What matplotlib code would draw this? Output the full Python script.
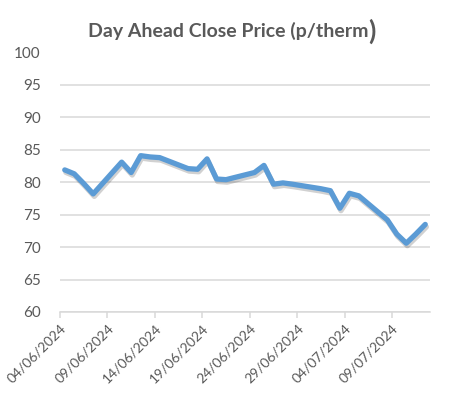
import matplotlib.pyplot as plt
import matplotlib.transforms as mtransforms
import matplotlib.patheffects as pe
import pandas as pd

dates = ["04/06/2024", "05/06/2024", "06/06/2024", "07/06/2024",
         "10/06/2024", "11/06/2024", "12/06/2024", "13/06/2024", "14/06/2024",
         "17/06/2024", "18/06/2024", "19/06/2024", "20/06/2024", "21/06/2024",
         "24/06/2024", "25/06/2024", "26/06/2024", "27/06/2024", "28/06/2024",
         "01/07/2024", "02/07/2024", "03/07/2024", "04/07/2024", "05/07/2024",
         "08/07/2024", "09/07/2024", "10/07/2024", "11/07/2024", "12/07/2024"]
prices = [81.9, 81.3, 79.8, 78.2,
          83.1, 81.5, 84.1, 83.9, 83.8,
          82.1, 82.0, 83.6, 80.5, 80.4,
          81.5, 82.6, 79.7, 79.9, 79.7,
          79.0, 78.7, 76.0, 78.3, 77.9,
          74.2, 72.0, 70.6, 72.0, 73.5]
y_ticks = [60, 65, 70, 75, 80, 85, 90, 95, 100]

x = pd.to_datetime(dates, format="%d/%m/%Y")
text_col = "#595959"
grid_col = "#D9D9D9"
plt.rcParams['font.family'] = ['Lato', 'DejaVu Sans']

fig = plt.figure(figsize=(4.64, 4.05), dpi=100)
ax = fig.add_axes([60 / 464, 1 - 312 / 405, 370 / 464, 259.5 / 405])

half = pd.Timedelta(hours=12)
ax.plot(x, prices, color="#5B9BD5", lw=3.8, solid_joinstyle="round",
        solid_capstyle="round", zorder=3,
        path_effects=[pe.SimpleLineShadow(offset=(0.8, -1.8), shadow_color="#000000", alpha=0.18),
                      pe.Normal()])

ax.set_xlim(x[0] - half, x[-1] + half)
ax.set_ylim(60, 100)
ax.set_yticks(y_ticks)
ax.yaxis.grid(True, color=grid_col, lw=1.1)
ax.set_axisbelow(True)

tick_dates = pd.date_range(x[0], x[-1], freq="5D")
ax.set_xticks(tick_dates - half)
ax.set_xticklabels([d.strftime("%d/%m/%Y") for d in tick_dates], rotation=45,
                   ha="right", rotation_mode="anchor")
shift = mtransforms.ScaledTranslation(6 / 100, -1 / 100, fig.dpi_scale_trans)
for lab in ax.get_xticklabels():
    lab.set_transform(lab.get_transform() + shift)

for side in ["top", "right", "left"]:
    ax.spines[side].set_visible(False)
ax.spines["bottom"].set_color(grid_col)
ax.spines["bottom"].set_linewidth(1.1)
ax.tick_params(axis="y", length=0, pad=14, labelcolor=text_col, labelsize=11)
ax.tick_params(axis="x", length=4, width=1.1, color=grid_col, pad=3,
               labelcolor=text_col, labelsize=10)

title_y = 1 - 31 / 405
title = fig.text(88 / 464, title_y, "Day Ahead Close Price (p/therm", ha="left", va="center",
                 fontsize=14, fontweight="bold", color=text_col)
fig.canvas.draw()
bb = title.get_window_extent()
fig.text(bb.x1 / 464, title_y - 0.002, ")", ha="left", va="center",
         fontsize=19, fontweight="bold", color=text_col)

fig.savefig("out.png", dpi=100)
